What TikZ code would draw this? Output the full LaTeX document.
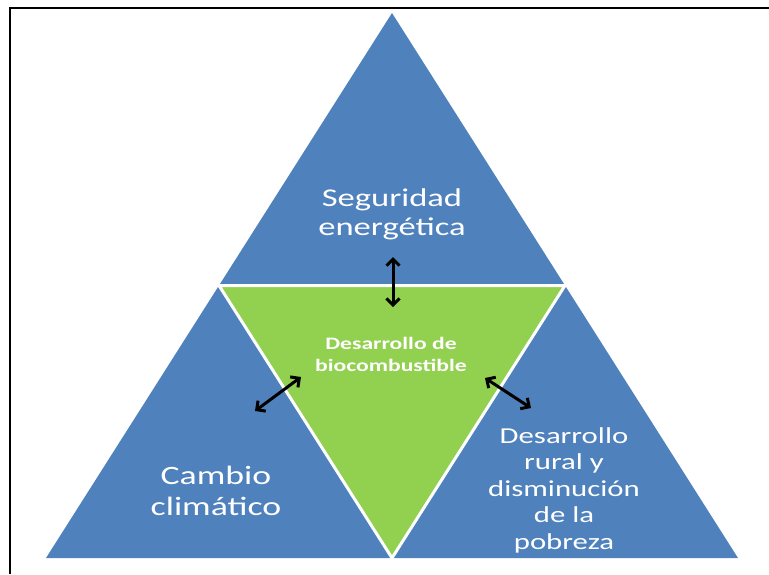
\documentclass[tikz,border=0pt]{standalone}
\usepackage{fontspec}
\setmainfont{Carlito}[FakeStretch=1.35]
\usetikzlibrary{arrows.meta}
\definecolor{tblue}{HTML}{4F81BD}
\definecolor{tgreen}{HTML}{92D050}
\tikzset{
  outertri/.style={fill=tblue},
  innertri/.style={fill=tgreen, draw=white, line width=3pt, line join=miter},
  lbl/.style={text=white, align=center, inner sep=0pt},
  biarrow/.style={line width=3pt, draw=black, {Straight Barb[length=6.5pt,width=13pt]}-{Straight Barb[length=6.5pt,width=13pt]}},
  frameline/.style={line width=2.5pt, draw=black}
}
\begin{document}
\begin{tikzpicture}[x=1pt,y=-1pt]
\useasboundingbox (0,0) rectangle (769,574);
% frame (top and left edges only)
\coordinate (ftl) at (10,8);
\coordinate (ftr) at (769,8);
\coordinate (fbl) at (10,574);
\draw[frameline] (ftr) -- (ftl) -- (fbl);
% big triangle
\coordinate (apex) at (392,13);
\coordinate (bl) at (46,558);
\coordinate (br) at (738,558);
\path (apex) -- (bl) coordinate[pos=0.5] (ml);
\path (apex) -- (br) coordinate[pos=0.5] (mr);
\path (bl) -- (br) coordinate[pos=0.5] (mb);
\fill[outertri] (apex) -- (bl) -- (br) -- cycle;
\filldraw[innertri] (ml) -- (mr) -- (mb) -- cycle;
% labels
\node[lbl, font=\fontsize{25.6}{29}\selectfont] (top) at (392,214) {Seguridad\\energética};
\node[lbl, font=\fontsize{26.5}{31}\selectfont] (left) at (216,491) {Cambio\\climático};
\node[lbl, font=\fontsize{22.8}{26.5}\selectfont] (right) at (564,490) {Desarrollo\\rural y\\disminución\\de la\\pobreza};
\node[lbl, font=\fontsize{17.5}{22}\selectfont\bfseries] (center) at (391,354) {Desarrollo de\\biocombustible};
% arrows
\coordinate (a1) at (393,257);
\coordinate (a2) at (393,307);
\coordinate (b1) at (301,377);
\coordinate (b2) at (255,411);
\coordinate (c1) at (485,378);
\coordinate (c2) at (531,408);
\draw[biarrow] (a1) -- (a2);
\draw[biarrow] (b1) -- (b2);
\draw[biarrow] (c1) -- (c2);
\end{tikzpicture}
\end{document}
